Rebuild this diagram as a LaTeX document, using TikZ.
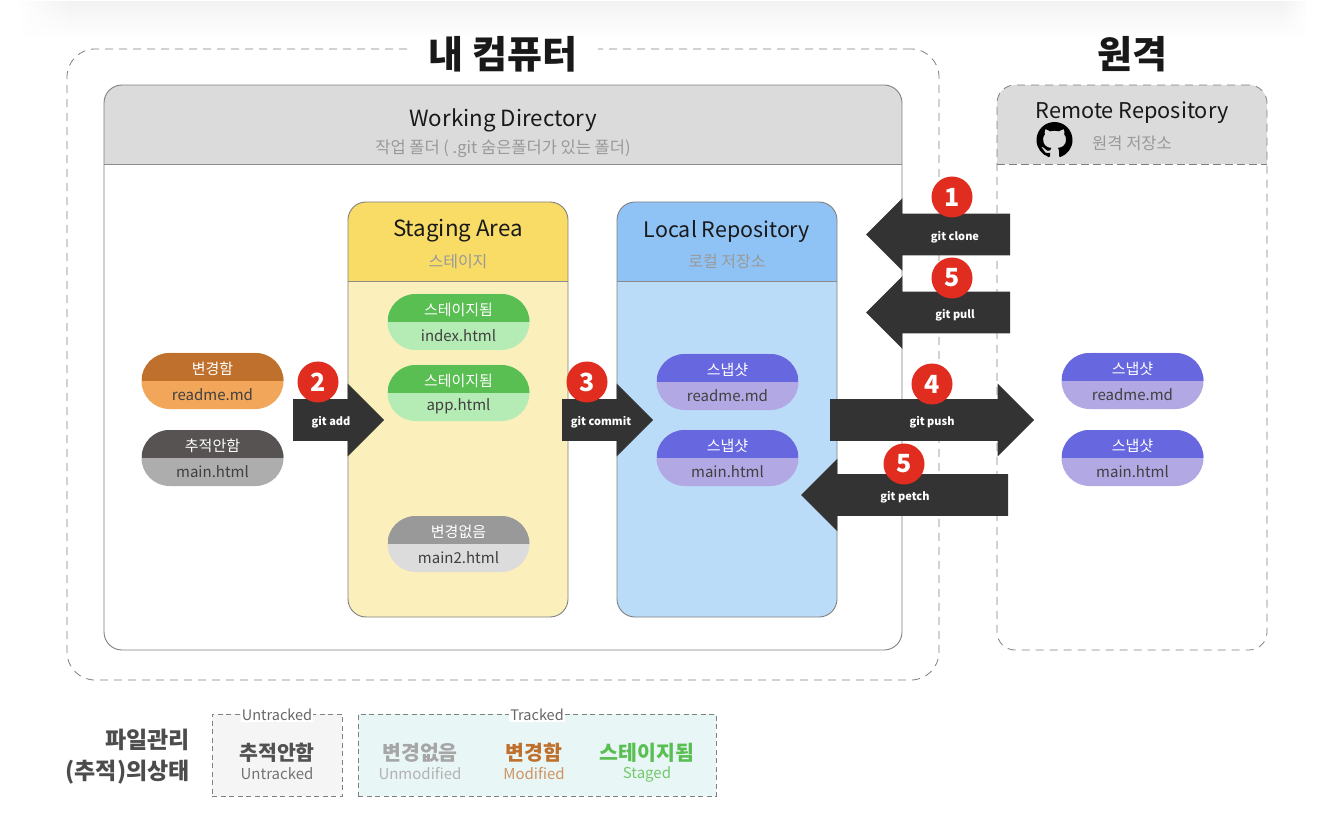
\documentclass[tikz,border=0pt]{standalone}
\usepackage{xcolor}
\usepackage{fontspec}
\setmainfont{Noto Sans CJK KR}
\usetikzlibrary{positioning, shapes.arrows, svg.path, fadings}
\definecolor{darkarrow}{HTML}{333333}
\definecolor{badgered}{HTML}{E02D20}
\definecolor{modtop}{HTML}{BE702C}
\definecolor{modbot}{HTML}{F2A65A}
\definecolor{untop}{HTML}{575352}
\definecolor{unbot}{HTML}{ADADAD}
\definecolor{stagetop}{HTML}{5ABF52}
\definecolor{stagebot}{HTML}{B5EBB5}
\definecolor{sametop}{HTML}{999999}
\definecolor{samebot}{HTML}{DCDCDC}
\definecolor{snaptop}{HTML}{6767E0}
\definecolor{snapbot}{HTML}{B2A8E4}
\definecolor{stagehead}{HTML}{F8DC66}
\definecolor{stagebody}{HTML}{FBEFBC}
\definecolor{localhead}{HTML}{90C3F5}
\definecolor{localbody}{HTML}{BBDCF9}
\definecolor{trackedbg}{HTML}{E9F6F6}
\begin{document}
\begin{tikzpicture}[
    x=1pt, y=-1pt,
    outerbox/.style={draw=black!50, line width=0.8pt, dash pattern=on 8pt off 6pt, rectangle,
                     rounded corners=28pt, inner sep=0pt},
    panel/.style n args={3}{draw=black!50, line width=0.9pt, rectangle, rounded corners=18pt,
                     inner sep=0pt, fill=#1, path picture={
                     \fill[#2, sharp corners] (path picture bounding box.north west) rectangle
                         ([yshift=-#3 pt]path picture bounding box.north east);
                     \draw[black!45, line width=1pt, sharp corners] ([yshift=-#3 pt]path picture bounding box.north west) --
                         ([yshift=-#3 pt]path picture bounding box.north east);}},
    pill/.style 2 args={rectangle, rounded corners=28pt, minimum width=142pt, minimum height=56pt,
                     inner sep=0pt, outer sep=0pt, fill=#2, path picture={
                     \fill[#1, sharp corners] (path picture bounding box.north west) rectangle (path picture bounding box.east);}},
    pilltop/.style={text=white, font=\fontsize{15}{17}\selectfont, inner sep=0pt},
    pillbot/.style={text=black!75, font=\fontsize{15}{17}\selectfont, inner sep=0pt},
    bigtitle/.style={font=\fontsize{38}{40}\selectfont\bfseries, text=black!90, inner sep=0pt},
    boxtitle/.style={font=\fontsize{22.3}{26}\selectfont, text=black!90, inner sep=0pt},
    boxsub/.style={font=\fontsize{16.5}{19}\selectfont, text=black!40, inner sep=0pt},
    blockarrow/.style={single arrow, single arrow head extend=15.5pt, single arrow head indent=0pt,
                     fill=darkarrow, inner xsep=0pt, inner ysep=20.75pt, outer sep=0pt, anchor=tail},
    cmdtext/.style={text=white, font=\fontsize{11}{13}\selectfont\bfseries, inner sep=0pt},
    badge/.style={circle, fill=badgered, text=white, minimum size=41pt, inner sep=0pt,
                  font=\fontsize{25}{28}\selectfont\bfseries},
    legendbox/.style={draw=black!50, line width=0.8pt, dash pattern=on 5pt off 3.5pt, rectangle, inner sep=0pt},
    legendtag/.style={font=\fontsize{14.5}{17}\selectfont, text=black!60, inner sep=1pt},
    statename/.style={font=\fontsize{20.5}{24}\selectfont\bfseries, inner sep=0pt},
    stateeng/.style={font=\fontsize{15}{18}\selectfont, inner sep=0pt}
]
\useasboundingbox (0,0) rectangle (1334,826);
%% pale band at the very top
\shade[top color=black!5, bottom color=white] (20,2) rectangle (1306,38);
\fill[white, path fading=east] (18,0) rectangle (75,40);
\fill[white, path fading=west] (1280,0) rectangle (1308,40);
%% my computer
\node[outerbox, minimum width=872pt, minimum height=631pt] (local) at (503,364.5) {};
\node[bigtitle, fill=white, minimum width=190pt, minimum height=36pt] (localtitle) at (503,54) {내 컴퓨터};
%% working directory
\node[panel={white}{black!14}{79.5}, minimum width=798pt, minimum height=565pt] (work) at (503,367.5) {};
\node[boxtitle] (worktitle) at (503,120) {Working Directory};
\node[boxsub] (worksub) at (503,149) {작업 폴더 ( .git 숨은폴더가 있는 폴더)};
%% staging area
\node[panel={stagebody}{stagehead}{80}, minimum width=220pt, minimum height=415pt] (stage) at (458,409.5) {};
\node[boxtitle] (stagetitle) at (458,231) {Staging Area};
\node[boxsub, font=\fontsize{16}{19}\selectfont] (stagesub) at (458,262) {스테이지};
%% local repository
\node[panel={localbody}{localhead}{80}, minimum width=220pt, minimum height=415pt] (repo) at (727,409.5) {};
\node[boxtitle, font=\fontsize{21.4}{26}\selectfont] (repotitle) at (727,231) {Local Repository};
\node[boxsub, font=\fontsize{16}{19}\selectfont] (reposub) at (727,262) {로컬 저장소};
%% remote
\node[bigtitle] (remotetitle) at (1132,54) {원격};
\node[outerbox, rounded corners=18pt, dash pattern=on 8pt off 6pt, minimum width=270pt, minimum height=565pt,
      path picture={\fill[black!14, sharp corners] (path picture bounding box.north west) rectangle ([yshift=-79.5pt]path picture bounding box.north east);
                    \draw[black!50, line width=1pt, sharp corners, dash pattern=on 8pt off 4pt] ([yshift=-79.5pt]path picture bounding box.north west) -- ([yshift=-79.5pt]path picture bounding box.north east);}]
      (remote) at (1132,367.5) {};
\node[boxtitle, font=\fontsize{21.7}{26}\selectfont] (remotename) at (1132,112.5) {Remote Repository};
\node[boxsub] (remotesub) at (1132,143) {원격 저장소};
\fill[black, shift={(1036.5,122)}, yscale=-1, scale=2.25]
    svg "M 8 0 C 3.58 0 0 3.58 0 8 c 0 3.54 2.29 6.53 5.47 7.59 c 0.4 0.07 0.55 -0.17 0.55 -0.38 c 0 -0.19 -0.01 -0.82 -0.01 -1.49 c -2.01 0.37 -2.53 -0.49 -2.69 -0.94 c -0.09 -0.23 -0.48 -0.94 -0.82 -1.13 c -0.28 -0.15 -0.68 -0.52 -0.01 -0.53 c 0.63 -0.01 1.08 0.58 1.23 0.82 c 0.72 1.21 1.87 0.87 2.33 0.66 c 0.07 -0.52 0.28 -0.87 0.51 -1.07 c -1.78 -0.2 -3.64 -0.89 -3.64 -3.95 c 0 -0.87 0.31 -1.59 0.82 -2.15 c -0.08 -0.2 -0.36 -1.02 0.08 -2.12 c 0 0 0.67 -0.21 2.2 0.82 c 0.64 -0.18 1.32 -0.27 2 -0.27 c 0.68 0 1.36 0.09 2 0.27 c 1.53 -1.04 2.2 -0.82 2.2 -0.82 c 0.44 1.1 0.16 1.92 0.08 2.12 c 0.51 0.56 0.82 1.27 0.82 2.15 c 0 3.07 -1.87 3.75 -3.65 3.95 c 0.29 0.25 0.54 0.73 0.54 1.48 c 0 1.07 -0.01 1.93 -0.01 2.2 c 0 0.21 0.15 0.46 0.55 0.38 C 13.71 14.53 16 11.53 16 8 c 0 -4.42 -3.58 -8 -8 -8 z";
%% file pills
\foreach \nm/\px/\py/\ctop/\cbot/\ttop/\tbot in {
    mod/212.5/381/modtop/modbot/변경함/readme.md,
    untr/212.5/458/untop/unbot/추적안함/main.html,
    idx/458.5/322/stagetop/stagebot/스테이지됨/index.html,
    app/458.5/393/stagetop/stagebot/스테이지됨/app.html,
    same/458.5/544/sametop/samebot/변경없음/main2.html,
    snapa/727.5/382/snaptop/snapbot/스냅샷/readme.md,
    snapb/727.5/458/snaptop/snapbot/스냅샷/main.html,
    remotea/1132.5/381/snaptop/snapbot/스냅샷/readme.md,
    remoteb/1132.5/458/snaptop/snapbot/스냅샷/main.html}{
    \node[pill={\ctop}{\cbot}] (\nm) at (\px,\py) {};
    \node[pilltop, above=12pt of \nm.center, anchor=center] (\nm top) {\ttop};
    \node[pillbot, below=13.5pt of \nm.center, anchor=center] (\nm bot) {\tbot};
}
%% block arrows
\node[blockarrow, minimum height=91pt] (add) at (293,420) {};
\node[cmdtext] (addtext) at (331,422) {git add};
\node[blockarrow, minimum height=91pt] (commit) at (562,420) {};
\node[cmdtext] (committext) at (601,422) {git commit};
\node[blockarrow, minimum height=204pt] (push) at (830,420) {};
\node[cmdtext] (pushtext) at (932,422) {git push};
\node[blockarrow, shape border rotate=180, minimum height=144pt] (clone) at (1010,234.5) {};
\node[cmdtext] (clonetext) at (955,237) {git clone};
\node[blockarrow, shape border rotate=180, minimum height=144pt] (pull) at (1010,312.5) {};
\node[cmdtext] (pulltext) at (955,315) {git pull};
\node[blockarrow, shape border rotate=180, minimum height=207pt] (petch) at (1008,495) {};
\node[cmdtext] (petchtext) at (905,497) {git petch};
%% number badges
\node[badge] (b1) at (952,197) {1};
\node[badge] (b5a) at (952,278) {5};
\node[badge] (b2) at (318,382) {2};
\node[badge] (b3) at (587,382) {3};
\node[badge] (b4) at (932,384) {4};
\node[badge] (b5b) at (904,464) {5};
%% legend
\node[anchor=east, font=\fontsize{23}{26}\selectfont\bfseries, text=black!70, inner sep=0pt] (legenda) at (190,740) {파일관리};
\node[anchor=east, font=\fontsize{23}{26}\selectfont\bfseries, text=black!70, inner sep=0pt] (legendb) at (190,772) {(추적)의상태};
\node[legendbox, fill=black!4, minimum width=130pt, minimum height=82pt] (untracked) at (277,755) {};
\node[legendbox, fill=trackedbg, minimum width=358pt, minimum height=82pt] (tracked) at (537,755) {};
\node[legendtag, fill=white] at (277,715) (untrackedtag) {Untracked};
\node[legendtag, fill=white] at (537,715) (trackedtag) {Tracked};
\node[statename, text=black!68] (s1) at (277,753) {추적안함};
\node[stateeng, text=black!55] (e1) at (277,774) {Untracked};
\node[statename, text=black!35] (s2) at (420,753) {변경없음};
\node[stateeng, text=black!30] (e2) at (420,774) {Unmodified};
\node[statename, text=modtop] (s3) at (534,753) {변경함};
\node[stateeng, text=modtop!75] (e3) at (534,774) {Modified};
\node[statename, text=stagetop] (s4) at (647,753) {스테이지됨};
\node[stateeng, text=stagetop!85] (e4) at (647,774) {Staged};
\end{tikzpicture}
\end{document}
